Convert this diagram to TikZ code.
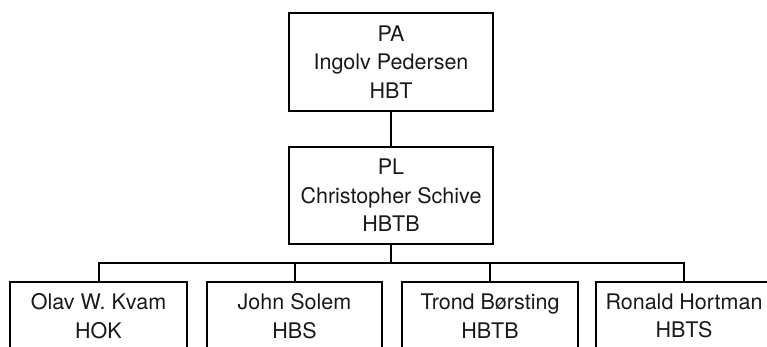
\documentclass[tikz,border=0pt]{standalone}
\usepackage{fontspec}
\setmainfont{TeX Gyre Heros}
\begin{document}
\begin{tikzpicture}[x=1pt,y=-1pt,
  box/.style={draw, line width=2pt, rectangle, align=center, inner sep=0pt,
    font=\fontsize{21.5}{28.5}\selectfont, text=black!90},
  link/.style={line width=2pt}]
\useasboundingbox (0,0) rectangle (767,346);
\clip (0,0) rectangle (767,346);
\node[box, minimum width=204pt, minimum height=98pt] (pa) at (391,62) {PA\\Ingolv Pedersen\\HBT};
\node[box, minimum width=204pt, minimum height=97pt] (pl) at (391,195.5) {PL\\Christopher Schive\\HBTB};
\node[box, minimum width=177pt, minimum height=68pt] (b1) at (98.5,316) {Olav W. Kvam\\HOK};
\node[box, minimum width=175pt, minimum height=68pt] (b2) at (294.5,316) {John Solem\\HBS};
\node[box, minimum width=176pt, minimum height=68pt] (b3) at (490,316) {Trond Børsting\\HBTB};
\node[box, minimum width=176pt, minimum height=68pt] (b4) at (684,316) {Ronald Hortman\\HBTS};
\coordinate (bus) at (391,263);
\draw[link] (pa.south) -- (pl.north);
\draw[link] (pl.south) -- (bus);
\draw[link] (b1.north) |- (bus) -| (b4.north);
\draw[link] (b2.north) -- (b2.north |- bus);
\draw[link] (b3.north) -- (b3.north |- bus);
\end{tikzpicture}
\end{document}
